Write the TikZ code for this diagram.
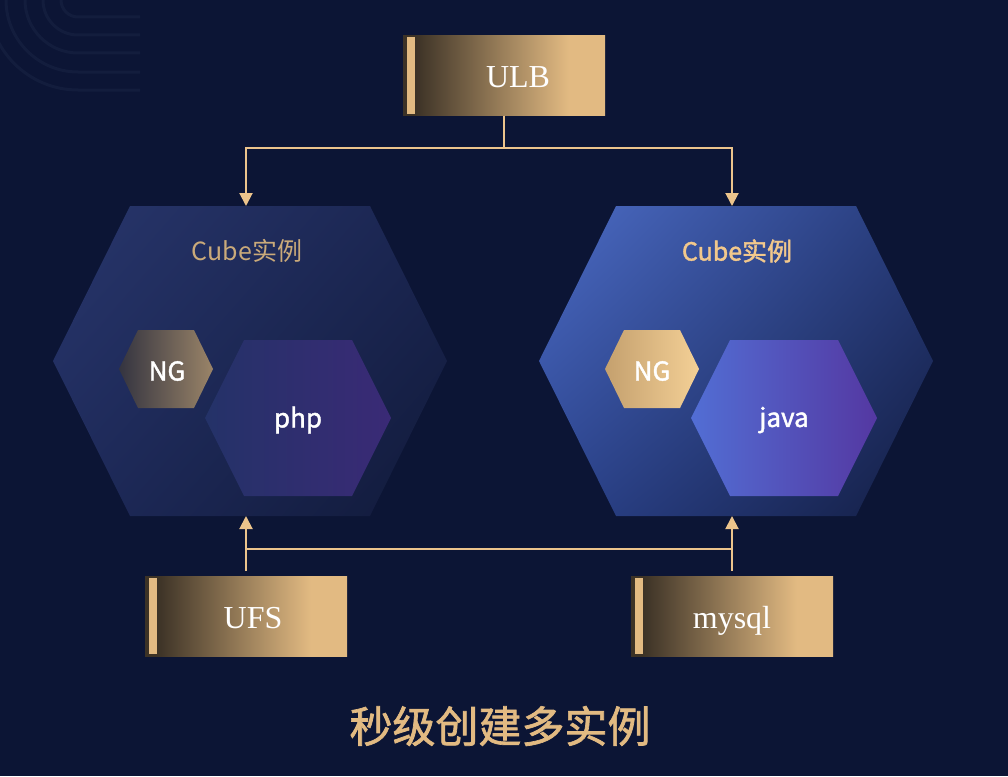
\documentclass[tikz,border=0pt]{standalone}
\usepackage{fontspec}
\setmainfont{Liberation Serif}
\newfontfamily\cjk{Noto Sans CJK SC}
\newfontfamily\cjkmed{Noto Sans CJK SC}[FakeBold=1.6]
\usetikzlibrary{arrows.meta,calc,shadings}

\definecolor{navy}{RGB}{12,21,53}
\definecolor{gold}{RGB}{226,186,130}
\definecolor{golddark}{RGB}{60,50,38}
\definecolor{wireclr}{RGB}{236,196,140}
\definecolor{decor}{RGB}{19,29,61}

\pgfdeclarehorizontalshading{goldbar}{100bp}{color(0bp)=(golddark); color(28bp)=(golddark); color(66bp)=(gold); color(100bp)=(gold)}

% hexagon: centre x, centre y, half width, half top edge, half height
\newcommand{\hexpath}[5]{(#1-#3,#2) -- (#1-#4,#2-#5) -- (#1+#4,#2-#5) -- (#1+#3,#2) -- (#1+#4,#2+#5) -- (#1-#4,#2+#5) -- cycle}

\begin{document}
\begin{tikzpicture}[x=1pt,y=-1pt,
    wire/.style={draw=wireclr, line width=2pt, -{Triangle[width=13pt,length=13pt]}},
    goldbox/.style={shade, shading=goldbar, minimum width=202pt, minimum height=80pt, inner sep=0pt,
      text height=24pt, text depth=0pt, text=white, font=\fontsize{32}{36}\selectfont,
      path picture={\fill[gold] ($(path picture bounding box.north west)+(4,2)$) rectangle ($(path picture bounding box.south west)+(12,-2)$);}},
    cubetitle/.style={font=\cjk\fontsize{25}{30}\selectfont},
    hextext/.style={text=white, font=\cjkmed\fontsize{26}{30}\selectfont}]

  \useasboundingbox (0,0) rectangle (1008,776);
  \fill[navy] (0,0) rectangle (1008,776);

  % faint rings in the corner
  \foreach \r in {17,35,53,72,90}
    \draw[decor, line width=3pt] (78-\r,0) arc[start angle=180, end angle=90, radius=\r] -- (140,\r);

  % the two cube instances
  \shade[upper left={rgb,255:red,40;green,54;blue,108}, upper right={rgb,255:red,26;green,37;blue,80},
    lower left={rgb,255:red,30;green,42;blue,90}, lower right={rgb,255:red,17;green,26;blue,58}]
    \hexpath{250}{361}{197}{120}{155};
  \shade[upper left={rgb,255:red,76;green,108;blue,198}, upper right={rgb,255:red,38;green,58;blue,120},
    lower left={rgb,255:red,44;green,68;blue,142}, lower right={rgb,255:red,19;green,29;blue,66}]
    \hexpath{736}{361}{197}{120}{155};

  \coordinate (cubeLtop) at (246,206);
  \coordinate (cubeLbot) at (246,516);
  \coordinate (cubeRtop) at (732,206);
  \coordinate (cubeRbot) at (732,516);

  \node[cubetitle, text={rgb,255:red,202;green,170;blue,122}] (cubeL) at (247,251) {Cube实例};
  \node[cubetitle, text={rgb,255:red,242;green,200;blue,140}, font=\cjkmed\fontsize{25}{30}\selectfont] (cubeR) at (737,251) {Cube实例};

  % inner parts
  \shade[left color={rgb,255:red,52;green,52;blue,64}, right color={rgb,255:red,154;green,132;blue,104}]
    \hexpath{166}{369}{47}{28}{39};
  \shade[left color={rgb,255:red,196;green,160;blue,110}, right color={rgb,255:red,244;green,208;blue,150}]
    \hexpath{652}{369}{47}{28}{39};
  \shade[left color={rgb,255:red,36;green,50;blue,104}, right color={rgb,255:red,58;green,42;blue,118}]
    \hexpath{298}{418}{93}{54}{78};
  \shade[left color={rgb,255:red,82;green,110;blue,212}, right color={rgb,255:red,84;green,56;blue,162}]
    \hexpath{784}{418}{93}{54}{78};

  \node[hextext] (ngL) at (167,371) {NG};
  \node[hextext] (ngR) at (652,371) {NG};
  \node[hextext] (php) at (298,420) {php};
  \node[hextext] (java) at (784,420) {java};

  % services
  \node[goldbox] (ulb) at (504,75.5) {\hspace*{28pt}ULB};
  \node[goldbox] (ufs) at (246,616) {\hspace*{14pt}UFS};
  \node[goldbox] (mysql) at (732,616) {mysql};

  \draw[wire] (ulb.south) -- ++(0,32) -| (cubeLtop);
  \draw[wire] (ulb.south) -- ++(0,32) -| (cubeRtop);

  \coordinate (bus) at (0,549);
  \draw[wire, shorten <=5pt] (ufs) -- (cubeLbot);
  \draw[wire, shorten <=5pt] (mysql) -- (cubeRbot);
  \draw[wire, -] (ufs |- bus) -- (mysql |- bus);

  \node[text=gold, font=\cjkmed\fontsize{43}{48}\selectfont] (caption) at (500,726) {秒级创建多实例};
\end{tikzpicture}
\end{document}
